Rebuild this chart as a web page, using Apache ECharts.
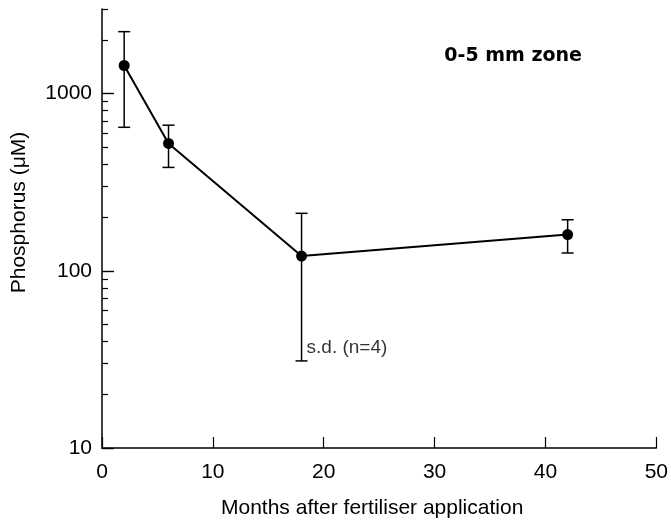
<!DOCTYPE html>
<html>
<head>
<meta charset="utf-8">
<script src="https://cdn.jsdelivr.net/npm/echarts@6/dist/echarts.min.js"></script>
<style>
  html, body { margin: 0; padding: 0; background: #fff; }
  #chart { width: 671px; height: 524px; }
</style>
</head>
<body>
<div id="chart"></div>
<script>
// Sampling times (months after fertiliser application)
const months = [2, 6, 18, 42];
// Mean phosphorus concentration (µM) in the 0-5 mm zone
const phosphorus = [1440, 523, 121, 160];
// Standard deviation of each mean (n = 4)
const stdDev = [795, 140, 90, 34];

// Axis tick values
const xTicks = [0, 10, 20, 30, 40, 50];
const yMajorTicks = [10, 100, 1000];
const yMinorTicks = [20, 30, 40, 50, 60, 70, 80, 90,
                     200, 300, 400, 500, 600, 700, 800, 900,
                     2000, 3000];

const FONT = 'Liberation Sans';
const INK = '#000';

const chart = echarts.init(document.getElementById('chart'), null, { renderer: 'canvas' });

const errorData = months.map((m, i) => [m, phosphorus[i] - stdDev[i], phosphorus[i] + stdDev[i]]);

chart.setOption({
  backgroundColor: '#fff',
  animation: false,
  title: {
    text: '0-5 mm zone',
    right: 84,
    top: 42,
    textStyle: { fontFamily: 'DejaVu Sans', fontWeight: 'bold', fontSize: 19, color: INK }
  },
  grid: { left: 102, right: 13, top: 9, bottom: 75 },
  xAxis: {
    type: 'value',
    min: 0, max: 50, interval: 10,
    name: 'Months after fertiliser application',
    nameLocation: 'middle',
    nameGap: 50,
    nameTextStyle: { fontFamily: FONT, fontSize: 21, color: INK, padding: [0, 14, 0, 0] },
    axisLine: { show: true, lineStyle: { color: INK, width: 1.5 } },
    axisTick: { show: true, inside: true, length: 11, customValues: xTicks, lineStyle: { color: INK, width: 1.2 } },
    axisLabel: { fontFamily: FONT, fontSize: 21, color: INK, margin: 14, customValues: xTicks },
    splitLine: { show: false }
  },
  yAxis: [
    {
      type: 'log', logBase: 10,
      min: 10, max: 3000,
      name: 'Phosphorus (\u03BCM)',
      nameLocation: 'middle',
      nameGap: 72,
      nameRotate: 90,
      nameTextStyle: { fontFamily: FONT, fontSize: 21, color: INK, padding: [0, 0, 0, 32] },
      axisLine: { show: true, lineStyle: { color: INK, width: 1.5 } },
      axisTick: { show: true, inside: true, length: 12, customValues: yMajorTicks, lineStyle: { color: INK, width: 1.4 } },
      axisLabel: {
        fontFamily: FONT, fontSize: 21, color: INK, margin: 10,
        customValues: yMajorTicks,
        formatter: v => String(Math.round(v))
      },
      splitLine: { show: false }
    },
    {
      // Minor ticks of the same log scale
      type: 'log', logBase: 10,
      min: 10, max: 3000,
      position: 'left',
      axisLine: { show: false },
      axisTick: { show: true, inside: true, length: 6, customValues: yMinorTicks, lineStyle: { color: INK, width: 1.2 } },
      axisLabel: { show: false },
      splitLine: { show: false }
    }
  ],
  series: [
    {
      // Standard-deviation bars
      type: 'custom',
      yAxisIndex: 0,
      data: errorData,
      z: 3,
      renderItem: function (params, api) {
        const x = api.value(0);
        const lo = api.coord([x, api.value(1)]);
        const hi = api.coord([x, api.value(2)]);
        const cap = 6;
        const style = { stroke: INK, lineWidth: 1.5 };
        return {
          type: 'group',
          children: [
            { type: 'line', shape: { x1: lo[0], y1: lo[1], x2: hi[0], y2: hi[1] }, style },
            { type: 'line', shape: { x1: hi[0] - cap, y1: hi[1], x2: hi[0] + cap, y2: hi[1] }, style },
            { type: 'line', shape: { x1: lo[0] - cap, y1: lo[1], x2: lo[0] + cap, y2: lo[1] }, style }
          ]
        };
      }
    },
    {
      type: 'line',
      yAxisIndex: 0,
      data: months.map((m, i) => [m, phosphorus[i]]),
      symbol: 'circle',
      symbolSize: 11,
      showAllSymbol: true,
      lineStyle: { color: INK, width: 2 },
      itemStyle: { color: INK },
      z: 4
    },
    {
      // Annotation next to the lower bar of the 18-month sample
      type: 'scatter',
      yAxisIndex: 0,
      data: [[18, 37]],
      symbolSize: 0,
      silent: true,
      label: {
        show: true,
        position: 'right',
        distance: 5,
        formatter: 's.d. (n=4)',
        fontFamily: FONT,
        fontSize: 19,
        color: INK
      }
    }
  ]
});
</script>
</body>
</html>
